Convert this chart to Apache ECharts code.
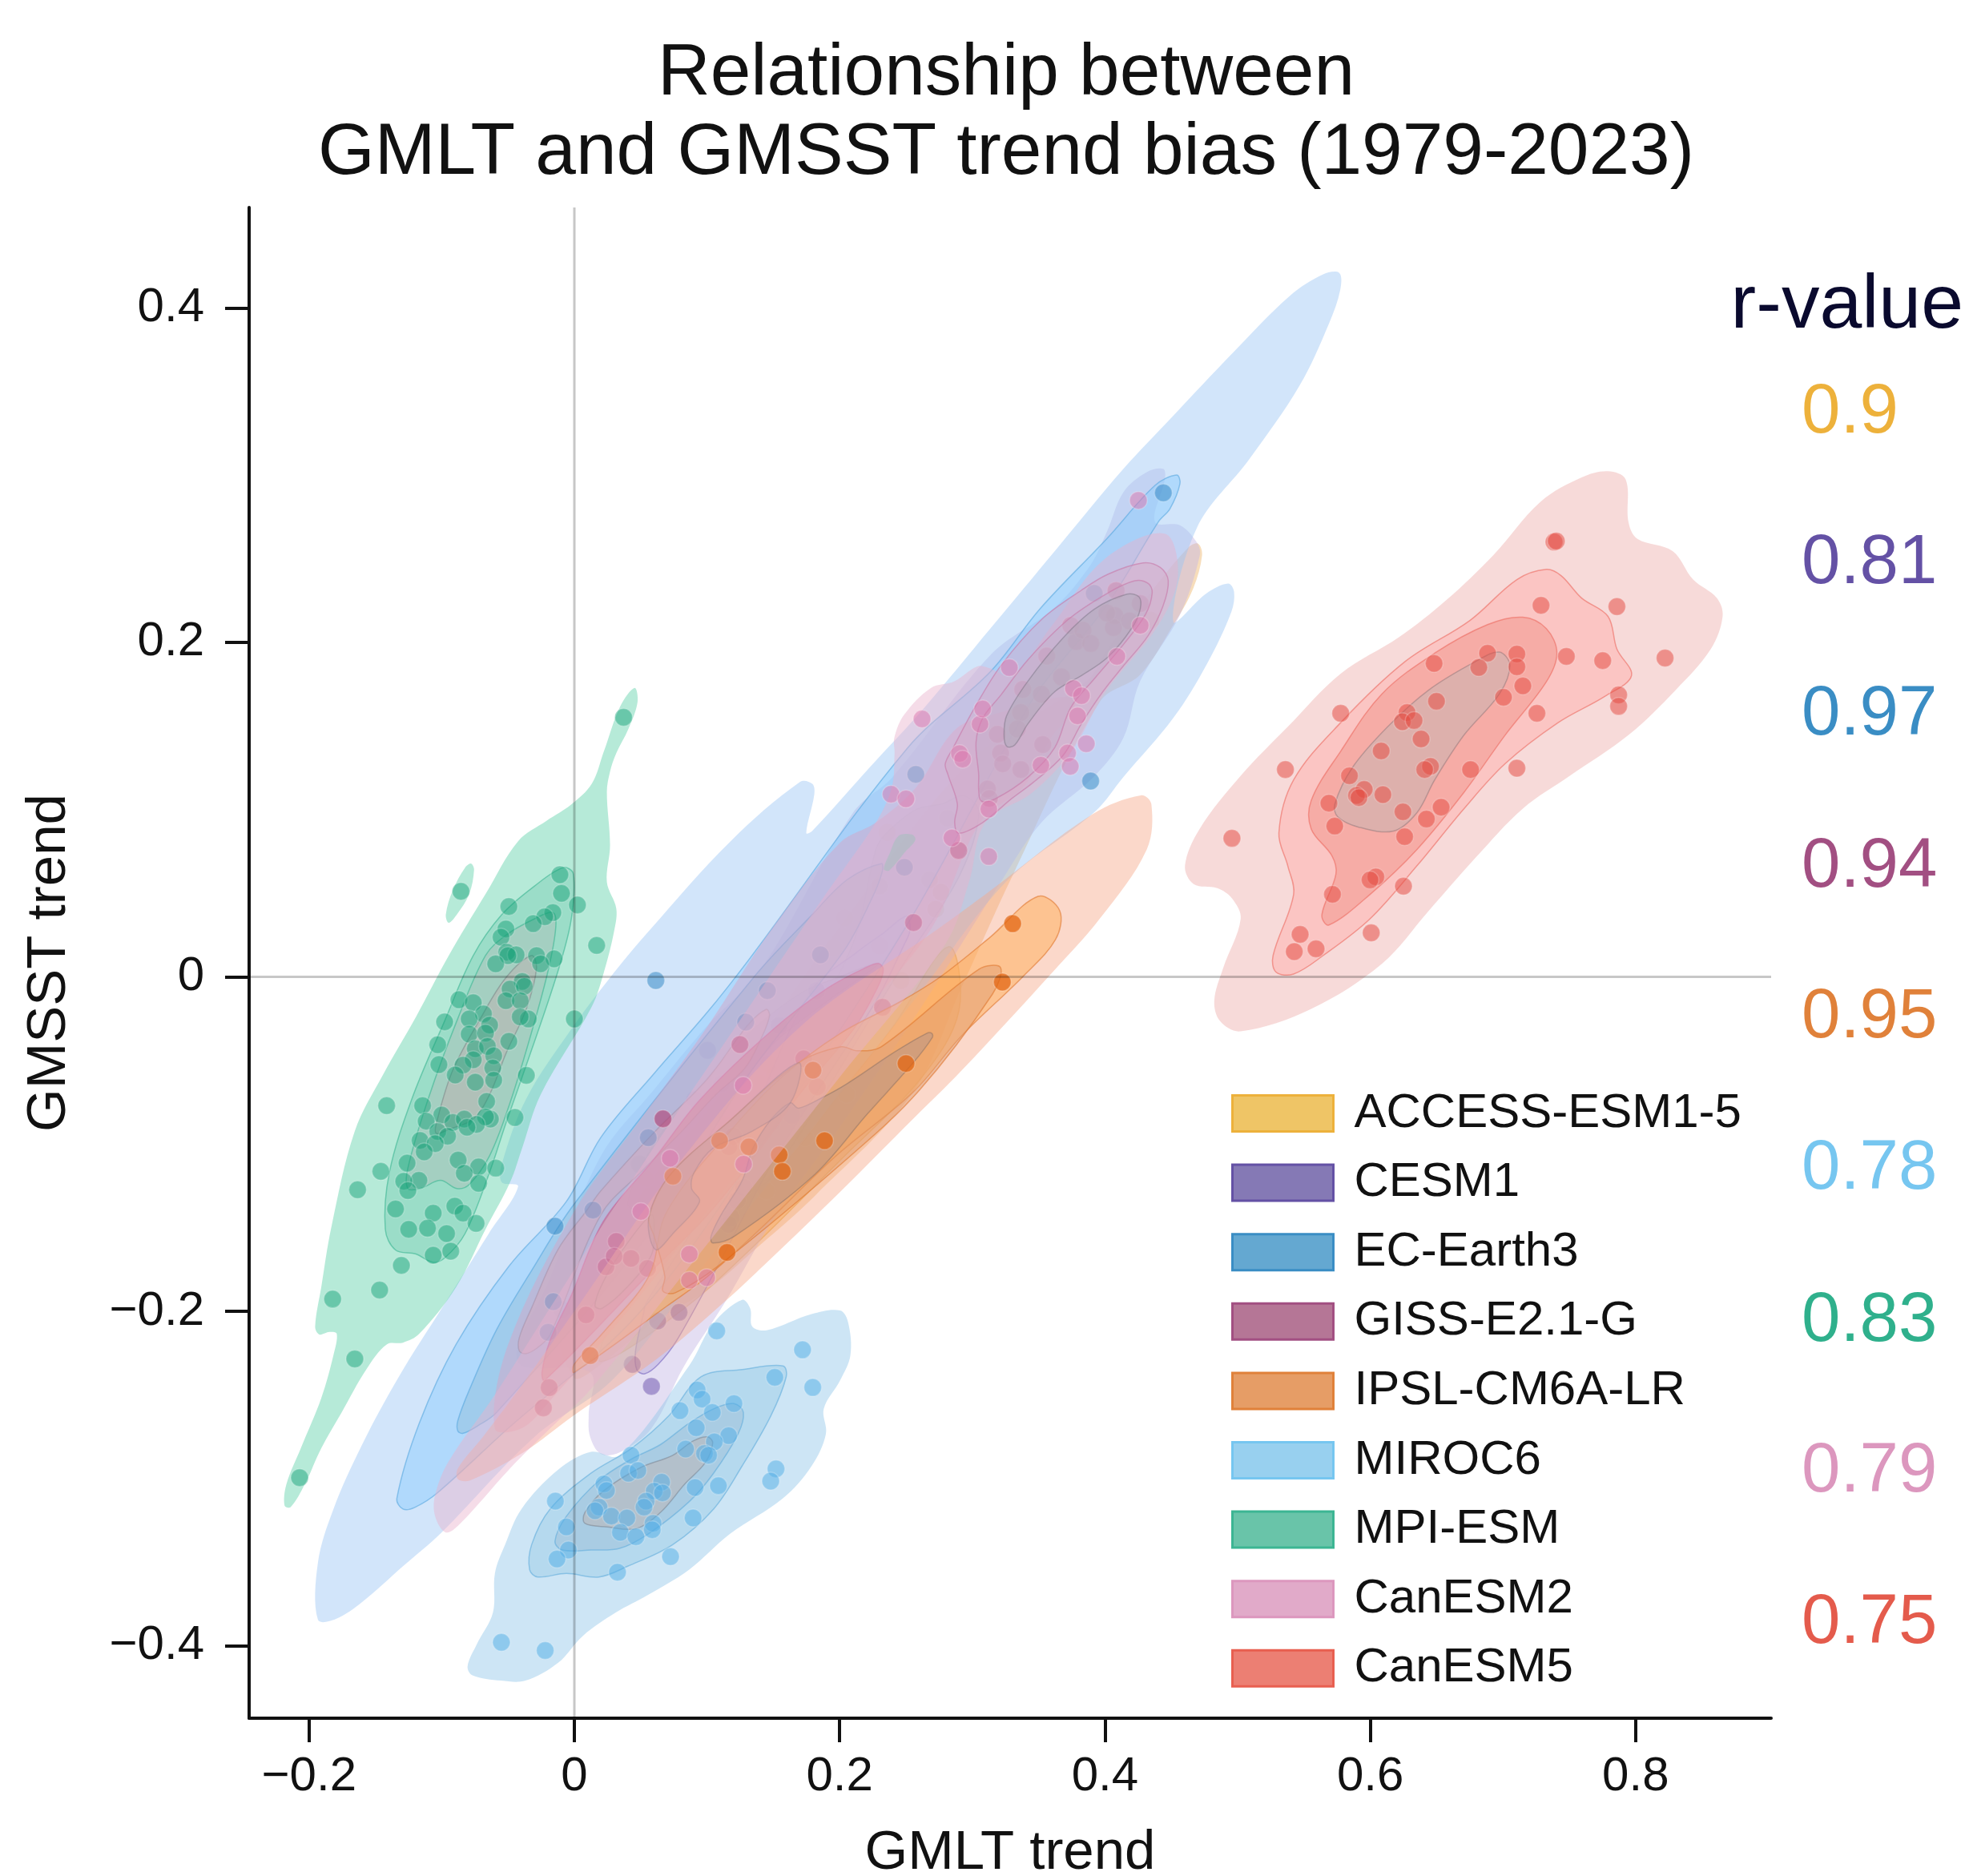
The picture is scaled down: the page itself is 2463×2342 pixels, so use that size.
<!DOCTYPE html>
<html><head><meta charset="utf-8">
<style>html,body{margin:0;padding:0;background:#fff}#c{width:2463px;height:2342px}</style>
<script src="https://cdn.jsdelivr.net/npm/echarts@6/dist/echarts.min.js"></script>
</head><body><div id="c"></div>
<script>
const xTicks=[-0.2,0,0.2,0.4,0.6,0.8];
const yTicks=[-0.4,-0.2,0,0.2,0.4];
const modelNames=['ACCESS-ESM1-5','CESM1','EC-Earth3','GISS-E2.1-G','IPSL-CM6A-LR','MIROC6','MPI-ESM','CanESM2','CanESM5'];
const rValues=['0.9','0.81','0.97','0.94','0.95','0.78','0.83','0.79','0.75'];
const rColors=['#EDB13B','#6451A5','#3A8DC4','#A24F82','#E0813A','#76C6F0','#2FB08C','#DC97BE','#E45B4C'];

// ---- density contours, in data units (GMLT trend, GMSST trend)
const accessL0=[[.4702,.2590],[.4732,.2521],[.4665,.2322],[.4515,.2104],[.4264,.1806],[.3964,.1647],[.33,.06],[.2917,-.0067],[.2554,-.0689],[.181,-.1312],[.1407,-.1599],[.1004,-.1871],[.0602,-.2062],[.0118,-.2365],[-.0002,-.2397],[-.01,-.21],[.05,-.13],[.12,-.06],[.2,.03],[.30,.13],[.3863,.1769],[.4024,.1961],[.4326,.2280],[.4628,.2567]];
const accessL1=[[.282,.018],[.29,-.02],[.262,-.06],[.20,-.11],[.13,-.165],[.08,-.20],[.02,-.23],[.03,-.205],[.10,-.15],[.16,-.11],[.20,-.07],[.24,-.03]];
const accessL2=[[.2937,.1083],[.305,.098],[.29,.06],[.25,.01],[.2,-.055],[.165,-.1],[.14,-.125],[.13,-.10],[.17,-.04],[.21,.02],[.2273,.0763],[.2353,.0860],[.2575,.1],[.2776,.1035]];
const cesmL0=[[.4439,.3037],[.4452,.2978],[.4377,.2720],[.4565,.2700],[.4690,.2600],[.4715,.2521],[.4565,.2164],[.4264,.1766],[.4139,.1429],[.3914,.1195],[.3521,.0923],[.3219,.0572],[.26,-.02],[.20,-.09],[.15,-.145],[.1145,-.1934],[.0823,-.2333],[.0581,-.2700],[.0340,-.2844],[.0199,-.2852],[.0118,-.2748],[.0108,-.2620],[.0118,-.2365],[-.0425,-.2301],[-.0183,-.1806],[.0199,-.1072],[.0602,-.0673],[.1004,-.029],[.1407,.0045],[.2102,.0983],[.2399,.1195],[.3138,.1925],[.3613,.2203],[.3889,.2461],[.4014,.2660],[.4139,.2898],[.4314,.3017]];
const cesmL1=[[.2503,.0363],[.2530,.0281],[.2488,.0196],[.2273,-.0146],[.19,-.06],[.15,-.11],[.11,-.17],[.0773,-.2173],[.0632,-.2317],[.0531,-.2373],[.0471,-.2349],[.0461,-.2237],[.0521,-.2013],[.0541,-.1950],[.09,-.15],[.13,-.09],[.1787,-.0082],[.2138,.0153],[.2327,.0260]];
const cesmL2=[[.2293,.008],[.2,.0],[.17,-.01],[.13,-.035],[.09,-.07],[.06,-.10],[.04,-.135],[.05,-.14],[.085,-.105],[.12,-.07],[.15,-.04],[.19,-.015]];
const ecL0=[[-.1933,-.3844],[-.1933,-.3502],[-.1816,-.3182],[-.16,-.2797],[-.1323,-.2391],[-.0984,-.1963],[-.0645,-.1535],[-.0424,-.1254],[-.0547,-.1229],[-.0547,-.1119],[-.0362,-.0728],[-.0023,-.0313],[.0254,-.002],[.0562,.0274],[.1178,.0811],[.1702,.1166],[.1794,.1154],[.1809,.1093],[.1748,.0860],[.1794,.0873],[.2225,.1251],[.2637,.1608],[.3138,.2084],[.3638,.2561],[.4139,.3037],[.4515,.3355],[.4965,.3732],[.5391,.4070],[.5641,.4199],[.5766,.4209],[.5774,.4109],[.5691,.3911],[.5466,.3534],[.5090,.3097],[.4690,.2680],[.4515,.2124],[.4765,.2293],[.4928,.2352],[.4973,.2303],[.4953,.2183],[.4765,.1866],[.4515,.1548],[.4139,.1195],[.3923,.0987],[.3259,.0572],[.26,-.01],[.18,-.09],[.10,-.17],[.03,-.24],[-.03,-.275],[-.1,-.3321],[-.1292,-.3524],[-.16,-.3738],[-.18,-.384]];
const ecL1=[[.4540,.3000],[.4565,.2948],[.4490,.2799],[.4402,.2720],[.4014,.2223],[.3513,.1727],[.3288,.1429],[.25,.03],[.15,-.09],[.05,-.20],[-.05,-.27],[-.1029,-.3083],[-.12,-.3171],[-.1292,-.3182],[-.1338,-.3118],[-.1169,-.2669],[-.0892,-.2198],[-.0491,-.1728],[-.006,-.1343],[.0199,-.0961],[.0602,-.0577],[.1004,-.021],[.1306,.0093],[.2512,.1369],[.3138,.1826],[.3513,.2203],[.4014,.2620],[.4377,.2938]];
const ecL2=[[.2314,.0677],[.2319,.0623],[.2246,.0474],[.2030,.0153],[.13,-.06],[.05,-.16],[-.0586,-.2604],[-.0727,-.2684],[-.0838,-.2729],[-.0878,-.2716],[-.0878,-.2652],[-.0787,-.2461],[-.0586,-.2109],[-.0324,-.1758],[-.0002,-.1359],[.1355,0],[.1787,.0367],[.2057,.0581]];
const ecL3=[[.1447,-.0194],[.1471,-.0234],[.1407,-.037],[.1286,-.0546],[.1065,-.0705],[.0803,-.0929],[.0501,-.1168],[.0199,-.1424],[-.0183,-.2141],[-.0284,-.2221],[-.0365,-.2253],[-.0415,-.2237],[-.0415,-.2157],[-.0324,-.1982],[-.0123,-.163],[.0098,-.1391],[.0199,-.128],[.0602,-.0929],[.1004,-.0609],[.1306,-.029]];
const gissL0=[[.2877,.1482],[.3199,.1578],[.3662,.1673],[.3772,.1649],[.3742,.1578],[.3581,.1418],[.3501,.1290],[.3380,.1131],[.3058,.0923],[.27,.03],[.22,-.02],[.15,-.09],[.09,-.15],[.04,-.20],[-.02,-.255],[-.04,-.27],[-.06,-.27],[-.05,-.22],[0,-.14],[.05,-.085],[.1,-.03],[.15,.03],[.2,.08],[.2273,.0923],[.2575,.1131]];
const gissL1=[[.2293,.008],[.2329,.0045],[.2293,-.0051],[.2111,-.0306],[.17,-.07],[.1407,-.1024],[.1004,-.1424],[.0602,-.1743],[-.0224,-.2413],[-.0244,-.2365],[-.0183,-.2173],[-.0022,-.1902],[.0219,-.1462],[.0602,-.1088],[.0944,-.0737],[.1487,-.0322],[.191,-.0067],[.2212,.0061]];
const gissL2=[[.0155,-.1966],[.0209,-.1982],[.04,-.1854],[.0581,-.1662],[.0601,-.1503],[.0581,-.1423],[.038,-.1614],[.0219,-.1822]];
const ipslL0=[[.427,.1085],[.435,.1031],[.4315,.0762],[.396,.0347],[.3606,.0029],[.2917,-.0562],[.2554,-.0849],[.2011,-.128],[.1447,-.1711],[.1145,-.1934],[.0622,-.2285],[0,-.262],[-.0385,-.2844],[-.0787,-.3011],[-.0878,-.3003],[-.0878,-.2939],[-.0687,-.2748],[-.0385,-.2429],[0,-.2],[.08,-.11],[.17,-.03],[.2732,.0281],[.3137,.0516],[.3903,.0971]];
const ipslL1=[[.3495,.0481],[.3659,.0395],[.3628,.0224],[.3384,.0004],[.2917,-.0354],[.2554,-.0689],[.197,-.1072],[.1407,-.1503],[.1004,-.1791],[.0702,-.1966],[-.0002,-.2365],[-.0002,-.2317],[.0219,-.2125],[.0561,-.179],[.07,-.14],[.12,-.09],[.1571,-.0595],[.2003,-.0339],[.2462,-.0146],[.2759,0],[.3137,.0239]];
const ipslL2=[[.3213,.0055],[.3151,-.0104],[.2597,-.0681],[.2057,-.1087],[.1085,-.1728],[.0761,-.1889],[.0667,-.1878],[.0682,-.1791],[.0602,-.1551],[.0561,-.144],[.0722,-.1184],[.1165,-.0865],[.1689,-.0514],[.2011,-.0418],[.2131,-.0442],[.2313,-.0418],[.3051,.0046]];
const ipslL3a=[[.2695,-.0338],[.2699,-.0362],[.2554,-.0514],[.2212,-.0817],[.1809,-.1184],[.1206,-.1551],[.1044,-.1591],[.103,-.1551],[.1105,-.1424],[.1266,-.1216],[.1346,-.1024],[.1487,-.0849],[.1628,-.0753],[.1689,-.0785],[.187,-.0721],[.2051,-.0641],[.2413,-.045],[.2655,-.0338]];
const ipslL3b=[[.0561,-.144],[.0612,-.1631],[.0743,-.1535],[.0944,-.1344],[.0883,-.1264],[.0904,-.1168],[.1044,-.1025],[.1326,-.0929],[.1628,-.0753],[.1689,-.0514],[.1165,-.0865],[.0722,-.1184]];
const mirocL0=[[.1264,-.1931],[.1326,-.1984],[.1341,-.2091],[.1449,-.2113],[.1788,-.2016],[.2004,-.1995],[.2065,-.207],[.2081,-.2262],[.2004,-.2412],[.188,-.2583],[.1896,-.2733],[.1788,-.2925],[.1572,-.3118],[.1172,-.3331],[.0864,-.3545],[.0556,-.3695],[.031,-.3802],[.0063,-.3941],[-.0122,-.4101],[-.0368,-.4208],[-.0553,-.4208],[-.0768,-.4176],[-.0805,-.4122],[-.0738,-.3994],[-.0614,-.3802],[-.0599,-.3567],[-.0522,-.3395],[-.0399,-.3182],[-.0122,-.2947],[.0125,-.284],[.034,-.2861],[.0864,-.2326],[.1049,-.207]];
const mirocL1=[[.1572,-.2326],[.1597,-.2391],[.148,-.2626],[.1264,-.2925],[.1049,-.3182],[.0741,-.3395],[.0402,-.3524],[.0186,-.3588],[-.006,-.3567],[-.0276,-.3588],[-.0337,-.3545],[-.0322,-.3395],[-.0183,-.3182],[.0125,-.2968],[.0433,-.2818],[.071,-.2626],[.0956,-.2391],[.1264,-.2348]];
const mirocL2=[[.1203,-.2551],[.1274,-.2604],[.1234,-.2733],[.1049,-.2968],[.0864,-.3139],[.0556,-.3331],[.034,-.3417],[.0125,-.3427],[-.0091,-.3427],[-.0146,-.3374],[-.006,-.3225],[.0186,-.3011],[.0433,-.2882],[.0648,-.2797],[.0864,-.2669],[.1049,-.2583]];
const mirocL3=[[.1003,-.275],[.1043,-.2786],[.0987,-.2904],[.0833,-.3032],[.0648,-.3203],[.0464,-.3299],[.0248,-.3289],[.0079,-.3267],[.0079,-.3203],[.0217,-.3075],[.0494,-.2936],[.0741,-.2861],[.0895,-.2775]];
const mpiL0=[[.0454,.1728],[.0476,.1642],[.0408,.1484],[.0316,.1337],[.0269,.1227],[.0245,.1105],[.0269,.0787],[.0245,.0567],[.0316,.0408],[.03,.0274],[.0223,.0029],[.0131,-.0178],[-.0254,-.0704],[-.0393,-.1022],[-.0485,-.1229],[-.067,-.151],[-.0892,-.1856],[-.1169,-.2134],[-.1292,-.2187],[-.1415,-.2198],[-.1569,-.2348],[-.1754,-.2604],[-.1908,-.2818],[-.2031,-.3032],[-.2139,-.3171],[-.2185,-.316],[-.217,-.3032],[-.2062,-.2818],[-.1908,-.2519],[-.1816,-.2262],[-.1791,-.2134],[-.1846,-.2123],[-.1923,-.2138],[-.1954,-.2091],[-.1908,-.1856],[-.1831,-.1493],[-.1656,-.0924],[-.144,-.0582],[-.1194,-.0239],[-.0947,.0127],[-.067,.0494],[-.0424,.0811],[-.0208,.0934],[-.0023,.1031],[.0131,.1154],[.0223,.1349],[.0346,.1618]];
const mpiIsland=[[-.0778,.0677],[-.0756,.064],[-.0793,.0494],[-.0886,.0372],[-.0947,.0323],[-.0969,.0372],[-.0916,.0518],[-.0824,.0653]];
const mpiPatch=[[.2444,.0843],[.2544,.0851],[.2571,.0819],[.2494,.0747],[.2373,.0636],[.2333,.0644],[.2373,.0731]];
const mpiL1=[[-.0085,.0653],[-.0008,.0616],[-.0023,.0347],[-.0116,.0054],[-.03,-.0386],[-.0516,-.0875],[-.0639,-.1168],[-.0824,-.1535],[-.0978,-.1681],[-.107,-.1706],[-.1194,-.1657],[-.1348,-.1633],[-.1425,-.151],[-.1394,-.1168],[-.1224,-.0728],[-.0978,-.0264],[-.0762,.0127],[-.0547,.0372],[-.03,.0543]];
const mpiL2=[[-.0162,.0384],[-.014,.0298],[-.0193,.0054],[-.0316,-.0313],[-.0485,-.0753],[-.0639,-.107],[-.0793,-.1242],[-.0886,-.1266],[-.1009,-.1217],[-.1163,-.1266],[-.1255,-.1266],[-.1255,-.1144],[-.1101,-.0728],[-.0886,-.0264],[-.067,.0127],[-.0516,.0249],[-.03,.0347]];
const mpiL3=[[-.0325,.0127],[-.0285,.0054],[-.0362,-.0191],[-.0516,-.0459],[-.0639,-.0704],[-.0762,-.085],[-.0947,-.0912],[-.104,-.0936],[-.104,-.0875],[-.0916,-.0557],[-.0701,-.0239],[-.0516,-.0005]];
const can2L0=[[-.1049,-.3227],[-.0969,-.3322],[-.0868,-.3275],[-.0485,-.2939],[-.0183,-.27],[.0129,-.246],[.10,-.16],[.20,-.06],[.28,.02],[.2977,.0572],[.3098,.0923],[.345,.11],[.375,.135],[.40,.17],[.44,.21],[.455,.24],[.445,.265],[.40,.25],[.36,.21],[.33,.18],[.3125,.1846],[.3037,.1856],[.2862,.1766],[.2687,.1727],[.2487,.1568],[.2412,.1429],[.2414,.1338],[.2393,.1131],[.2273,.0923],[.19,.05],[.13,-.02],[.07,-.09],[.02,-.15],[-.02,-.20],[-.06,-.25],[-.095,-.29],[-.105,-.31]];
const can2L1=[[.4286,.2475],[.4417,.2448],[.4477,.2368],[.4437,.2216],[.4326,.2041],[.4145,.1865],[.3984,.1705],[.3823,.1514],[.3682,.1322],[.346,.1163],[.3299,.1067],[.3078,.0923],[.2897,.0859],[.2867,.0923],[.2887,.1035],[.2816,.121],[.2796,.1274],[.2856,.137],[.3018,.161],[.3219,.1865],[.3521,.2136],[.3823,.2312],[.4024,.2408]];
const can2L2=[[.4225,.2368],[.4326,.2352],[.4356,.2296],[.4306,.2168],[.4145,.1993],[.3923,.1785],[.3742,.161],[.3621,.137],[.342,.1194],[.3179,.1067],[.3068,.1051],[.3048,.1115],[.3048,.121],[.3028,.1402],[.3078,.1546],[.3219,.1689],[.342,.1897],[.3722,.2136],[.4024,.2296]];
const can2L3=[[.4165,.2288],[.4256,.2272],[.4266,.22],[.4205,.2088],[.4024,.1913],[.3823,.1801],[.3621,.1705],[.342,.1514],[.332,.1386],[.3259,.1378],[.3239,.145],[.3259,.1562],[.342,.1769],[.3682,.2025],[.3923,.22]];
const can5L0=[[.7792,.3023],[.7925,.2974],[.7947,.2717],[.8014,.2619],[.8279,.2546],[.8434,.2375],[.8612,.2265],[.8656,.2155],[.8567,.196],[.8302,.1715],[.7947,.1446],[.7504,.1202],[.715,.1006],[.6795,.0713],[.6441,.0395],[.6087,.0078],[.5555,-.0191],[.5023,-.0326],[.4868,-.0265],[.4824,-.0142],[.4891,.0053],[.5023,.0346],[.4957,.0469],[.4846,.053],[.4669,.0554],[.4603,.0664],[.4713,.0884],[.5023,.1202],[.5378,.1495],[.5777,.1813],[.622,.2033],[.6574,.2253],[.6928,.2522],[.7283,.284],[.7593,.2986]];
const can5L1=[[.7327,.2436],[.7438,.2399],[.7593,.2265],[.7792,.2155],[.7859,.196],[.7969,.1801],[.777,.1678],[.7416,.152],[.7017,.1275],[.6707,.1006],[.6352,.0664],[.5998,.0347],[.5644,.0127],[.5422,.0017],[.5289,.0029],[.5267,.0127],[.5422,.0493],[.5378,.0664],[.5311,.086],[.5422,.1177],[.5777,.152],[.6264,.1886],[.6751,.2131],[.7105,.2375]];
const can5L2=[[.715,.215],[.7327,.2082],[.7407,.1935],[.7327,.1764],[.7017,.1446],[.6707,.1104],[.6352,.0762],[.5998,.0493],[.5688,.031],[.5635,.0371],[.5741,.0615],[.571,.0725],[.5555,.0884],[.5555,.1055],[.5777,.1349],[.6087,.1691],[.6485,.1935],[.6884,.2106]];
const can5L3=[[.6973,.1942],[.7052,.1862],[.6973,.1691],[.6707,.1446],[.6485,.1177],[.6352,.0982],[.6175,.0872],[.5909,.0896],[.5754,.0958],[.5732,.1031],[.5865,.1251],[.6131,.1495],[.6441,.1715],[.6795,.1886]];

// ---- ensemble members
const accessPts=[[.2038,.0352],[.1954,.0174],[.23,.0185],[.23,.0542],[.2359,.0863],[.2813,.0948],[.2678,.0581],[.2764,.0506],[.2724,.0405],[.2462,-.0022],[.1946,-.0338],[.1739,-.0961],[.1447,-.128],[.0702,-.1384],[.0803,-.136],[.1467,-.0522],[.1407,-.0638],[.1508,-.0585],[.1145,-.0889],[.0984,-.1068],[.0823,-.112],[.0537,-.1205],[.4346,.2133],[.2051,-.0702]];
const cesmPts=[[.1826,-.0083],[.1544,-.029],[.1109,-.0638],[.0908,-.0734],[.1004,-.0439],[.0491,-.112],[-.0093,-.199],[.0581,-.2448],[.0789,-.2006],[.0437,-.2317],[.0628,-.2057],[.1487,-.0873],[.1638,-.0828],[.1226,-.1336],[.1276,-.1261],[.1181,-.144],[.1161,-.1479]];
const ecPts=[[.0614,-.0022],[.1455,-.0083],[.1855,.0132],[.1292,-.0271],[.0557,-.0961],[-.0146,-.1491],[.014,-.1395],[-.0159,-.1942],[-.0198,-.2125],[.444,.2894],[.3919,.2293],[.2574,.1211],[.3892,.1171],[.2488,.0655]];
const gissPts=[[.3783,.2005],[.4084,.2309],[.4074,.216],[.4064,.2088],[.4266,.2232],[.3561,.1918],[.3742,.21],[.3833,.2072],[.4014,.2176],[.4185,.2128],[.3893,.1993],[.3672,.1793],[.3521,.1689],[.3364,.1581],[.334,.1482],[.338,.1718],[.3189,.145],[.3213,.1338],[.3229,.1274],[.3366,.1239],[.3531,.1389],[.3114,.1123],[.3128,.1067],[.2897,.0755],[.2557,.0324],[.1248,-.0405],[.0668,-.0849],[.0239,-.1734],[.0088,-.2021],[-.019,-.2456],[-.0234,-.2577],[.0427,-.1683],[.0551,-.1743],[.0316,-.1582],[.03,-.167],[.1199,-.0953],[.1165,-.1016],[.1729,-.049],[.183,-.0657],[.2323,-.0182]];
const ipslPts=[[.1095,-.098],[.1316,-.1017],[.1799,-.0558],[.1544,-.1064],[.1568,-.1163],[.1886,-.098],[.1151,-.1647],[.0743,-.1192],[.0119,-.2264],[.3304,.0318],[.3226,-.0031],[.25,-.0518]];
const mirocPts=[[.1073,-.2117],[.172,-.223],[.1797,-.2455],[.1511,-.2395],[.0926,-.247],[.0963,-.2525],[.1203,-.2551],[.0796,-.2594],[.104,-.2604],[.0919,-.2696],[.1163,-.2743],[.1055,-.278],[.0839,-.2823],[.0981,-.285],[.0427,-.2861],[.1012,-.2861],[.152,-.2942],[.0408,-.2968],[.0479,-.2951],[.148,-.3015],[.0223,-.3032],[.0658,-.3021],[.0242,-.3071],[.1086,-.3043],[.091,-.3053],[.0602,-.3075],[.0664,-.3085],[.0541,-.3135],[.0525,-.3171],[.0186,-.3171],[.0156,-.3192],[.0279,-.3224],[.0396,-.3235],[.0593,-.3267],[.0895,-.3235],[-.006,-.3289],[.0347,-.3321],[.0464,-.3348],[.0587,-.3306],[-.0045,-.3427],[-.0131,-.3481],[.0725,-.3466],[.0325,-.356],[-.0143,-.3135],[-.055,-.3979],[-.022,-.4028]];
const mpiPts=[[.0371,.1552],[-.0855,.0511],[-.0109,.0611],[-.0097,.0499],[.0023,.043],[-.0494,.042],[-.0162,.0384],[-.0223,.0359],[-.031,.0318],[-.0516,.0286],[-.0553,.0237],[.0168,.0188],[-.051,.0147],[-.0439,.0132],[-.0501,.0127],[-.0285,.0127],[-.0153,.0108],[-.0254,.0078],[-.0593,.0078],[-.0393,-.0027],[-.0485,-.0073],[-.0377,-.0056],[-.087,-.0137],[-.0516,-.0142],[-.0408,-.0142],[-.0762,-.0154],[-.0685,-.0222],[-.0347,-.0252],[-.0408,-.0239],[0,-.0252],[-.0978,-.0269],[-.0793,-.0252],[-.0639,-.0288],[-.0793,-.0342],[-.067,-.0337],[-.0494,-.0386],[-.103,-.0406],[-.0747,-.043],[-.0655,-.0415],[-.0608,-.0472],[-.0762,-.0496],[-.0839,-.0528],[-.1021,-.0525],[-.0615,-.0545],[-.0898,-.0587],[-.0362,-.0589],[-.0608,-.0618],[-.0747,-.063],[-.0661,-.0745],[-.1144,-.077],[-.1415,-.077],[-.1,-.0826],[-.0916,-.087],[-.083,-.085],[-.1117,-.0863],[-.0448,-.0841],[-.0633,-.085],[-.067,-.0838],[-.0738,-.0882],[-.0809,-.0899],[-.103,-.0924],[-.0956,-.0953],[-.1163,-.0978],[-.1049,-.0997],[-.1132,-.1046],[-.0876,-.1095],[-.1261,-.1114],[-.0722,-.1136],[-.0593,-.1144],[-.1459,-.1163],[-.083,-.1175],[-.1172,-.1217],[-.1286,-.1222],[-.0722,-.1234],[-.1634,-.1273],[-.1255,-.1278],[-.1348,-.1388],[-.0901,-.1371],[-.1064,-.1413],[-.0839,-.1413],[-.0741,-.1474],[-.1249,-.151],[-.1107,-.1503],[-.0963,-.1535],[-.0932,-.164],[-.1064,-.1664],[-.1304,-.1725],[-.1468,-.1873],[-.1822,-.1927],[-.1655,-.2284],[-.2071,-.2994]];
const can2Pts=[[.3279,.1849],[.2621,.1542],[.2387,.1092],[.25,.1064],[.2903,.1335],[.2927,.1301],[.3762,.1724],[.3823,.1681],[.409,.1916],[.4266,.2101],[.3793,.156],[.3859,.1394],[.3718,.1338],[.3738,.1258],[.3517,.1266],[.2846,.0831],[.3124,.0719],[.4252,.2849],[.3058,.1511],[.3078,.1602],[.3124,.1003],[.1272,-.0649],[.0722,-.1085],[.0501,-.1403],[.1276,-.112],[.0867,-.1658],[.0867,-.1814],[.0998,-.1798]];
const can5Pts=[[.7385,.26],[.7402,.2605],[.7287,.2221],[.7859,.2214],[.7478,.1916],[.7752,.1891],[.8222,.1906],[.6884,.1935],[.7105,.193],[.6481,.1874],[.6818,.185],[.7105,.1854],[.715,.174],[.7004,.1671],[.7872,.1686],[.7872,.1617],[.6499,.1647],[.5777,.1576],[.7256,.1576],[.6277,.1581],[.6242,.1525],[.633,.1532],[.6383,.1422],[.536,.1239],[.6082,.1351],[.5843,.1202],[.6454,.1258],[.641,.1239],[.6756,.1239],[.7105,.1248],[.5954,.1121],[.6095,.109],[.5896,.1085],[.5914,.1072],[.5688,.1038],[.6534,.1014],[.6246,.0987],[.6423,.0943],[.5732,.0901],[.6259,.0838],[.4957,.0828],[.6042,.0598],[.5998,.0579],[.625,.0542],[.5715,.0493],[.5471,.0254],[.6007,.0263],[.5591,.0168],[.5427,.0151]];

const contours=[
 [[accessL0],[accessL1],[accessL2]],
 [[cesmL0],[cesmL1],[cesmL2]],
 [[ecL0],[ecL1],[ecL2],[ecL3]],
 [[gissL0],[gissL1],[gissL2]],
 [[ipslL0],[ipslL1],[ipslL2],[ipslL3a,ipslL3b]],
 [[mirocL0],[mirocL1],[mirocL2],[mirocL3]],
 [[mpiL0,mpiIsland,mpiPatch],[mpiL1],[mpiL2],[mpiL3]],
 [[can2L0],[can2L1],[can2L2],[can2L3]],
 [[can5L0],[can5L1],[can5L2],[can5L3]]
];
const members=[accessPts,cesmPts,ecPts,gissPts,ipslPts,mirocPts,mpiPts,can2Pts,can5Pts];

// style: the tint each nested level shows over white, point colour, outline colour, legend fill
const tints=[
 ['#F7DDBB','#F9C77E','#E3C29A'],
 ['#E4DEF3','#CFC6E8','#B9A5D8'],
 ['#D2E5FA','#B0D9FC','#A0CCEC','#B8BDD0'],
 ['#EED5E4','#DCA0B4','#C9A0B0'],
 ['#FBD8CA','#FDC391','#EFB080','#D2A284'],
 ['#CDE5F5','#B5D9EE','#A9CCE3','#B3C0CB'],
 ['#B6EAD8','#9BDDC8','#A4CFC1','#B0C0B8'],
 ['#F5DCE8','#E4C4D9','#D4BAD2','#C2B2C6'],
 ['#F7DAD9','#FBC5C3','#F6ACA6','#DDB0AC']
];
const pointColors=['rgba(214,150,60,.45)','rgba(110,85,175,.65)','rgba(50,135,195,.65)','rgba(175,55,110,.72)','rgba(226,100,15,.9)','rgba(85,175,230,.65)','rgba(20,160,120,.6)','rgba(220,120,175,.65)','rgba(228,75,65,.65)'];
const edges=['#E0A030','#7A68C0','#5AA8E0','#C8609A','#E07830','#62AEDC','#3CB593','#C878A8','#EC6A60'];
const legendFills=['#EFC566','#8579B5','#64A8D1','#B57696','#E69D66','#98D0EF','#69C4A9','#E1AAC9','#EC7F73'];
const legendEdges=['#EDB13B','#6451A5','#3A8DC4','#A24F82','#E0813A','#76C6F0','#3CB593','#DC97BE','#E85F50'];

const FONT='"Liberation Sans", Arial, sans-serif';
const rgb=h=>[1,3,5].map(i=>parseInt(h.substr(i,2),16));
function levelFills(list){
  let prev=[255,255,255];
  return list.map((h,i)=>{
    const t=rgb(h), a=i===0?0.45:0.5;
    const c=t.map((v,k)=>Math.max(0,Math.min(255,Math.round((v-(1-a)*prev[k])/a))));
    prev=t;
    return `rgba(${c[0]},${c[1]},${c[2]},${a})`;
  });
}
const series=[];
modelNames.forEach((name,m)=>{
  const fills=levelFills(tints[m]);
  const items=[];
  contours[m].forEach((polys,lev)=>polys.forEach(p=>items.push({pts:p,lev})));
  series.push({
    type:'custom',name,coordinateSystem:'cartesian2d',z:2+2*m,silent:true,animation:false,
    data:items.map((_,i)=>[i]),
    itemStyle:{color:legendFills[m]},
    renderItem:(params,api)=>{
      const it=items[api.value(0)];
      const top=it.lev===contours[m].length-1&&it.lev>=2;
      return {type:'polygon',
        shape:{points:it.pts.map(p=>api.coord(p)),smooth:0.35},
        style:{fill:fills[it.lev],
          stroke:it.lev===0?null:(top?'rgba(70,70,80,.45)':edges[m]),
          strokeOpacity:.6,
          lineWidth:it.lev===0?0:1.5}};
    }
  });
  series.push({
    type:'scatter',name,data:members[m],z:3+2*m,symbolSize:22,silent:true,animation:false,
    itemStyle:{color:pointColors[m],borderColor:'rgba(255,255,255,.3)',borderWidth:1.5}
  });
});
const xRange=[-0.24517,0.90217], yRange=[-0.44325,0.46001];
const lineStyle={color:'rgba(0,0,0,.22)',width:3};
series.push({type:'line',name:'v0',data:[[0,yRange[0]],[0,yRange[1]]],showSymbol:false,symbol:'none',z:40,silent:true,animation:false,lineStyle});
series.push({type:'line',name:'h0',data:[[xRange[0],0],[xRange[1],0]],showSymbol:false,symbol:'none',z:40,silent:true,animation:false,lineStyle});

const fmt=v=>{const r=Math.round(v*10)/10;return r===0?'0':String(r).replace('-','\u2212');};
const axisCommon={
  axisLine:{show:true,onZero:false,lineStyle:{color:'#111',width:4}},
  splitLine:{show:false},
  nameTextStyle:{color:'#111',fontSize:69,fontFamily:FONT}
};
const rYs=[516,704,893,1083,1271,1460,1650,1838,2027];
const option={
  animation:false,backgroundColor:'#fff',textStyle:{fontFamily:FONT},
  title:{text:'Relationship between\nGMLT and GMSST trend bias (1979-2023)',left:1251,top:38,textAlign:'center',
    textStyle:{fontFamily:FONT,fontSize:91,fontWeight:'normal',color:'#111',lineHeight:99}},
  grid:{left:311,top:259,width:1900,height:1886,containLabel:false,outerBoundsMode:'none'},
  xAxis:Object.assign({type:'value',min:xRange[0],max:xRange[1],name:'GMLT trend',nameLocation:'middle',nameGap:134,
    axisTick:{show:true,length:30,lineStyle:{color:'#111',width:4},customValues:xTicks},
    axisLabel:{customValues:xTicks,formatter:fmt,color:'#111',fontSize:60,margin:43,fontFamily:FONT}},axisCommon),
  yAxis:Object.assign({type:'value',min:yRange[0],max:yRange[1],name:'GMSST trend',nameLocation:'middle',nameGap:215,
    axisTick:{show:true,length:30,lineStyle:{color:'#111',width:4},customValues:yTicks},
    axisLabel:{customValues:yTicks,formatter:fmt,color:'#111',fontSize:60,margin:56,fontFamily:FONT}},axisCommon),
  legend:{orient:'vertical',left:1508,top:1346,z:60,selectedMode:false,backgroundColor:'#fff',
    padding:[14,37,26,29],itemWidth:126,itemHeight:45,itemGap:26.6,
    textStyle:{fontFamily:FONT,fontSize:60,color:'#111',padding:[0,0,0,21]},
    data:modelNames.map((n,i)=>({name:n,icon:'rect',itemStyle:{color:legendFills[i],borderColor:legendEdges[i],borderWidth:3}}))},
  graphic:[{type:'text',z:70,style:{text:'r-value',x:2451,y:383,textAlign:'right',textVerticalAlign:'middle',fill:'#0A0A2E',font:'95px '+FONT}}]
    .concat(rValues.map((t,i)=>({type:'text',z:70,style:{text:t,x:2249,y:rYs[i],textAlign:'left',textVerticalAlign:'middle',fill:rColors[i],font:'87px '+FONT}}))),
  series
};
echarts.init(document.getElementById('c'),null,{renderer:'canvas'}).setOption(option);
</script></body></html>
